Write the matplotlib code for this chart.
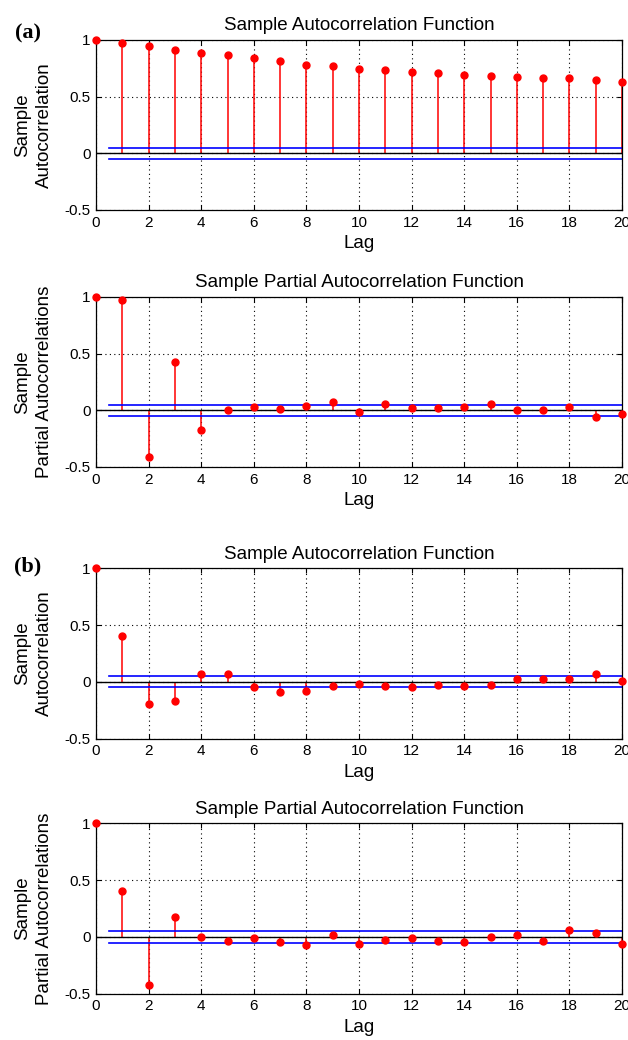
import matplotlib
matplotlib.use("Agg")
import matplotlib.pyplot as plt

lags = list(range(21))
acf_a = [1.00, 0.976, 0.944, 0.912, 0.888, 0.868, 0.838, 0.815, 0.779, 0.768, 0.747,
         0.738, 0.715, 0.706, 0.694, 0.682, 0.671, 0.662, 0.662, 0.650, 0.632]
pacf_a = [1.00, 0.974, -0.413, 0.422, -0.173, 0.0, 0.032, 0.015, 0.041, 0.070, -0.015,
          0.056, 0.023, 0.023, 0.032, 0.056, 0.0, 0.0, 0.032, -0.056, -0.030]
acf_b = [1.00, 0.40, -0.196, -0.166, 0.065, 0.065, -0.045, -0.089, -0.080, -0.033, -0.015,
         -0.033, -0.045, -0.024, -0.033, -0.024, 0.021, 0.021, 0.021, 0.065, 0.009]
pacf_b = [1.00, 0.40, -0.426, 0.173, 0.0, -0.033, -0.012, -0.045, -0.068, 0.012, -0.060,
          -0.024, -0.012, -0.033, -0.048, 0.0, 0.012, -0.033, 0.057, 0.033, -0.065]
bound = 0.05

x_ticks = list(range(0, 21, 2))
y_ticks = [-0.5, 0, 0.5, 1]
y_tick_labels = ["-0.5", "0", "0.5", "1"]

plt.rcParams['font.family'] = ['Liberation Sans', 'DejaVu Sans']


def draw_panel(ax, values, title, ylabel):
    ax.set_xlim(0, 20)
    ax.set_ylim(-0.5, 1)
    ax.set_xticks(x_ticks)
    ax.set_yticks(y_ticks)
    ax.set_yticklabels(y_tick_labels)
    ax.grid(True, color='black', linestyle=(0, (1, 3)), linewidth=0.8)
    ax.set_axisbelow(True)

    markers, stems, base = ax.stem(lags, values, linefmt='r-', markerfmt='ro', basefmt='k-')
    plt.setp(stems, linewidth=1.1, color=(1, 0, 0))
    plt.setp(markers, markersize=5, color=(1, 0, 0), clip_on=False, zorder=4)
    plt.setp(base, linewidth=1.0, color='black')

    ax.plot([0.5, 20], [bound, bound], color=(0, 0, 1), linewidth=1.2)
    ax.plot([0.5, 20], [-bound, -bound], color=(0, 0, 1), linewidth=1.2)

    ax.tick_params(direction='in', length=3.5, top=True, right=True, labelsize=11, pad=4)
    for s in ax.spines.values():
        s.set_linewidth(0.9)
    ax.set_title(title, fontsize=13.5, pad=7)
    ax.set_xlabel("Lag", fontsize=13.5, labelpad=4)
    ax.set_ylabel(ylabel, fontsize=13.5, linespacing=1.4, labelpad=8)


def main():
    fig = plt.figure(figsize=(6.28, 10.4), dpi=100)
    left, width, height = 0.1529, 0.8376, 0.1635
    bottoms = [0.7981, 0.5510, 0.2899, 0.0447]
    panels = [
        (acf_a, "Sample Autocorrelation Function", "Sample\nAutocorrelation"),
        (pacf_a, "Sample Partial Autocorrelation Function", "Sample\nPartial Autocorrelations"),
        (acf_b, "Sample Autocorrelation Function", "Sample\nAutocorrelation"),
        (pacf_b, "Sample Partial Autocorrelation Function", "Sample\nPartial Autocorrelations"),
    ]
    for b, (vals, title, ylab) in zip(bottoms, panels):
        ax = fig.add_axes([left, b, width, height])
        draw_panel(ax, vals, title, ylab)

    fig.text(28 / 628, 1 - 33 / 1040, "(a)", family='Liberation Serif', fontweight='bold',
             fontsize=16, ha='center', va='center')
    fig.text(28 / 628, 1 - 566 / 1040, "(b)", family='Liberation Serif', fontweight='bold',
             fontsize=16, ha='center', va='center')

    fig.savefig("out.png", dpi=100)


if __name__ == "__main__":
    main()
